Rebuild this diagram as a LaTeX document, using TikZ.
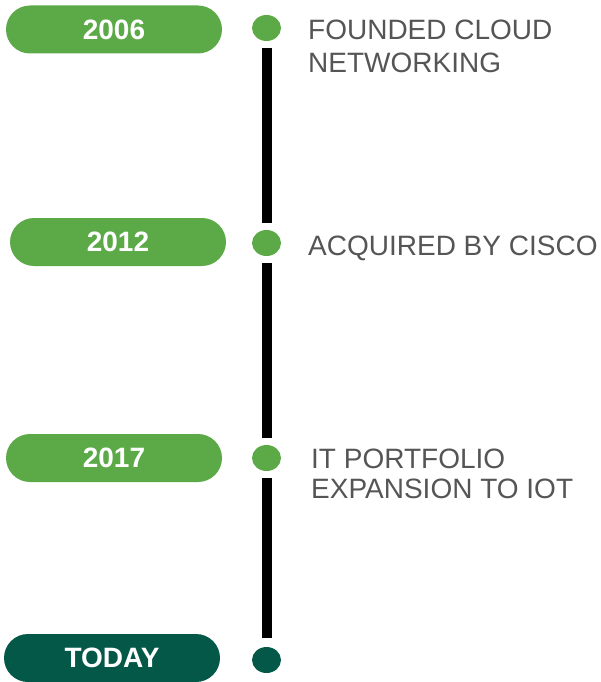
\documentclass[tikz,border=0pt]{standalone}
\usepackage{fontspec}
\setmainfont{Liberation Sans}
\usetikzlibrary{shapes.geometric}
\definecolor{lgreen}{RGB}{92,170,71}
\definecolor{dgreen}{RGB}{4,88,72}
\definecolor{txtgray}{RGB}{85,85,85}
\begin{document}
\begin{tikzpicture}[x=1pt,y=-1pt,
  pill/.style={rectangle, draw=none, fill=lgreen, minimum width=216pt, minimum height=48pt,
    rounded corners=24pt, inner sep=0pt, text=white, font=\bfseries\fontsize{28}{34}\selectfont},
  dot/.style={ellipse, draw=none, fill=lgreen, minimum width=29pt, minimum height=26pt, inner sep=0pt},
  event/.style={anchor=base west, inner sep=0pt, align=left, text=txtgray},
  link/.style={line width=10pt, black, shorten <=7pt, shorten >=7pt}]
\useasboundingbox (0,0) rectangle (600,682);
\node[pill] (y1) at (114,29.5) {2006};
\node[pill] (y2) at (118,242) {2012};
\node[pill] (y3) at (114,458) {2017};
\node[pill, fill=dgreen] (y4) at (112,658) {TODAY};
\node[dot] (d1) at (266.5,28) {};
\node[dot] (d2) at (266.5,243) {};
\node[dot] (d3) at (266.5,458) {};
\node[dot, fill=dgreen] (d4) at (266.5,660) {};
\draw[link] (d1) -- (d2);
\draw[link] (d2) -- (d3);
\draw[link, shorten >=9pt] (d3) -- (d4);
\node[event, font=\fontsize{28}{33}\selectfont] (t1) at (308,73) {FOUNDED CLOUD\\NETWORKING};
\node[event, font=\fontsize{28}{33}\selectfont] (t2) at (308,255) {ACQUIRED BY CISCO};
\node[event, font=\fontsize{28}{30}\selectfont] (t3) at (311,498) {IT PORTFOLIO\\EXPANSION TO IOT};
\end{tikzpicture}
\end{document}
